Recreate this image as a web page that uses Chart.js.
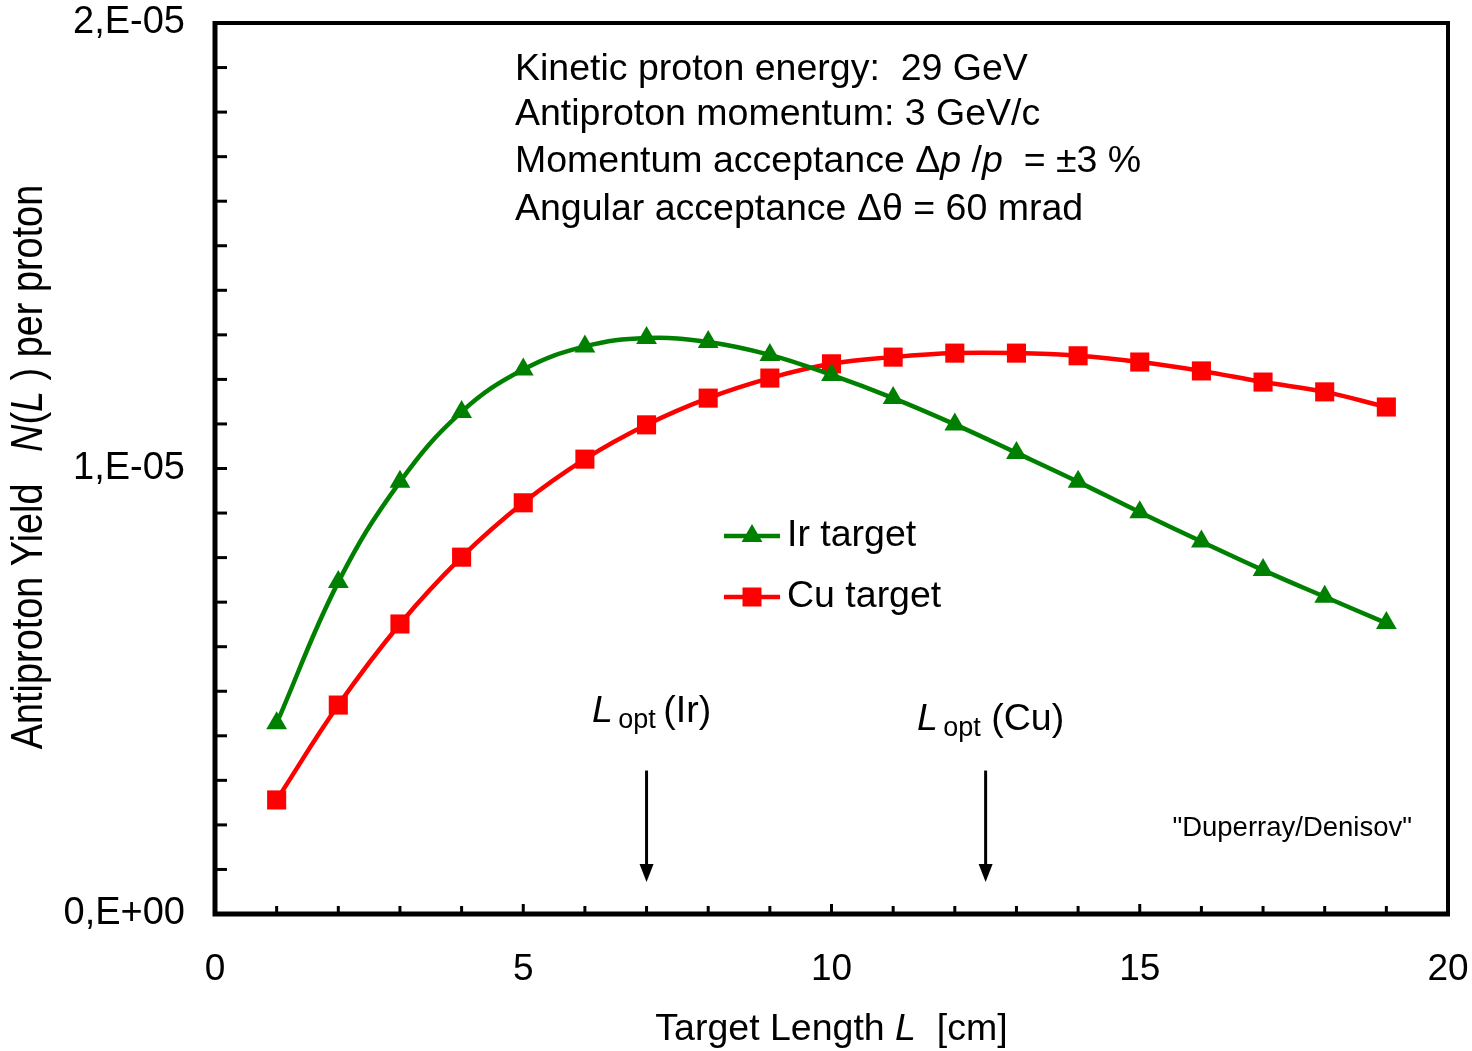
<!DOCTYPE html>
<html>
<head>
<meta charset="utf-8">
<script src="https://cdn.jsdelivr.net/npm/chart.js@4.4.1/dist/chart.umd.min.js"></script>
<style>
  html, body { margin: 0; padding: 0; background: #fff; }
  #wrap { width: 1472px; height: 1051px; position: relative; }
</style>
</head>
<body>
<div id="wrap"><canvas id="yieldChart"></canvas></div>
<script>
// target length L in cm
var lengths = [1, 2, 3, 4, 5, 6, 7, 8, 9, 10, 11, 12, 13, 14, 15, 16, 17, 18, 19];
// antiproton yield per proton, Ir target
var irYield = [4.28e-6, 7.45e-6, 9.70e-6, 11.27e-6, 12.22e-6, 12.74e-6, 12.93e-6, 12.84e-6, 12.55e-6, 12.10e-6,
               11.58e-6, 10.99e-6, 10.35e-6, 9.70e-6, 9.02e-6, 8.36e-6, 7.72e-6, 7.12e-6, 6.53e-6];
// antiproton yield per proton, Cu target
var cuYield = [2.56e-6, 4.69e-6, 6.51e-6, 8.01e-6, 9.23e-6, 10.21e-6, 10.98e-6, 11.58e-6, 12.03e-6, 12.35e-6,
               12.50e-6, 12.59e-6, 12.59e-6, 12.53e-6, 12.39e-6, 12.19e-6, 11.94e-6, 11.72e-6, 11.38e-6];
// labelled y ticks
var yTickLabels = {0: '0,E+00', 10: '1,E-05', 20: '2,E-05'};
// optimum lengths marked with arrows
var optIr = 7;
var optCu = 12.5;

var FONT = '"Liberation Sans", Arial, sans-serif';
var TXT = 37.5;

function pts(ys){
  return lengths.map(function(x, i){ return {x: x, y: ys[i]}; });
}

// draws a run of [text, italic, size, dy] pieces starting at x
function drawRich(ctx, parts, x, y){
  parts.forEach(function(p){
    ctx.font = (p[1] ? 'italic ' : '') + p[2] + 'px ' + FONT;
    ctx.fillText(p[0], x, y + (p[3] || 0));
    x += ctx.measureText(p[0]).width;
  });
  return x;
}
function richWidth(ctx, parts){
  var w = 0;
  parts.forEach(function(p){
    ctx.font = (p[1] ? 'italic ' : '') + p[2] + 'px ' + FONT;
    w += ctx.measureText(p[0]).width;
  });
  return w;
}

function marker(ctx, style, x, y, color){
  ctx.fillStyle = color;
  ctx.beginPath();
  if (style === 'triangle'){
    var r = 12;
    ctx.moveTo(x, y - r);
    ctx.lineTo(x + r * 0.866, y + r * 0.5);
    ctx.lineTo(x - r * 0.866, y + r * 0.5);
  } else {
    ctx.rect(x - 9.5, y - 9.5, 19, 19);
  }
  ctx.closePath();
  ctx.fill();
}

var extras = {
  id: 'extras',
  afterDraw: function(chart){
    var ctx = chart.ctx, a = chart.chartArea;
    var xs = chart.scales.x, ys = chart.scales.y;
    ctx.save();
    ctx.fillStyle = '#000';
    ctx.strokeStyle = '#000';

    // frame
    ctx.lineWidth = 4;
    ctx.strokeRect(a.left, a.top, a.right - a.left, a.bottom - a.top);
    ctx.lineWidth = 5;
    ctx.beginPath();
    ctx.moveTo(a.left, a.top - 2); ctx.lineTo(a.left, a.bottom);
    ctx.lineTo(a.right + 2, a.bottom);
    ctx.stroke();

    // inner tick marks
    ctx.lineWidth = 3;
    ys.ticks.forEach(function(t){
      var py = ys.getPixelForValue(t.value);
      ctx.beginPath(); ctx.moveTo(a.left, py); ctx.lineTo(a.left + 12, py); ctx.stroke();
    });
    for (var i = 1; i < 20; i++){
      var px = xs.getPixelForValue(i);
      ctx.beginPath(); ctx.moveTo(px, a.bottom); ctx.lineTo(px, a.bottom - (i % 5 ? 8 : 10)); ctx.stroke();
    }

    ctx.textBaseline = 'middle';
    ctx.textAlign = 'left';

    // y axis title
    ctx.save();
    ctx.translate(30, 467);
    ctx.rotate(-Math.PI / 2);
    ctx.scale(0.86, 1);
    var yt = [['Antiproton Yield   ', false, 44], ['N', true, 44], ['(', false, 44], ['L', true, 44], [' ) per proton', false, 44]];
    drawRich(ctx, yt, -richWidth(ctx, yt) / 2, 0);
    ctx.restore();

    // x axis title
    var xt = [['Target Length ', false, TXT], ['L', true, TXT], ['  [cm]', false, TXT]];
    drawRich(ctx, xt, xs.getPixelForValue(10) - richWidth(ctx, xt) / 2, 1030);

    // conditions
    var x0 = 515;
    drawRich(ctx, [['Kinetic proton energy:  29 GeV', false, TXT]], x0, 70);
    drawRich(ctx, [['Antiproton momentum: 3 GeV/c', false, TXT]], x0, 115);
    drawRich(ctx, [['Momentum acceptance \u0394', false, TXT], ['p', true, TXT], [' /', false, TXT], ['p', true, TXT], ['  = \u00b13 %', false, TXT]], x0, 162);
    drawRich(ctx, [['Angular acceptance \u0394\u03b8 = 60 mrad', false, TXT]], x0, 210);

    // legend
    [['Ir target', '#008000', 'triangle', 536], ['Cu target', '#ff0000', 'rect', 597]].forEach(function(l){
      ctx.strokeStyle = l[1];
      ctx.lineWidth = 4.5;
      ctx.beginPath(); ctx.moveTo(724, l[3]); ctx.lineTo(780, l[3]); ctx.stroke();
      marker(ctx, l[2], 752, l[3], l[1]);
      ctx.fillStyle = '#000';
      drawRich(ctx, [[l[0], false, TXT]], 787, l[3]);
    });

    // optimum length arrows
    ctx.strokeStyle = '#000';
    ctx.fillStyle = '#000';
    [[optIr, '\u2009(Ir)', 712], [optCu, ' (Cu)', 720]].forEach(function(o){
      var px = xs.getPixelForValue(o[0]);
      var top = ys.getPixelForValue(3.22e-6), tip = ys.getPixelForValue(0.72e-6);
      ctx.lineWidth = 3;
      ctx.beginPath(); ctx.moveTo(px, top); ctx.lineTo(px, tip - 14); ctx.stroke();
      ctx.beginPath();
      ctx.moveTo(px - 7, tip - 18); ctx.lineTo(px + 7, tip - 18); ctx.lineTo(px, tip);
      ctx.closePath(); ctx.fill();
      var lab = [['L', true, TXT], ['\u2009opt', false, 27, 9], [o[1], false, TXT]];
      drawRich(ctx, lab, px + 5 - richWidth(ctx, lab) / 2, o[2]);
    });

    // source note
    ctx.textAlign = 'right';
    ctx.font = '27.5px ' + FONT;
    ctx.fillText('"Duperray/Denisov"', 1412, 828);

    ctx.restore();
  }
};

new Chart('yieldChart', {
  type: 'line',
  data: {
    datasets: [{
      label: 'Ir target',
      data: pts(irYield),
      borderColor: '#008000',
      backgroundColor: '#008000',
      borderWidth: 4.5,
      pointStyle: 'triangle',
      pointRadius: 12,
      pointBorderWidth: 0,
      tension: 0.4,
      fill: false
    }, {
      label: 'Cu target',
      data: pts(cuYield),
      borderColor: '#ff0000',
      backgroundColor: '#ff0000',
      borderWidth: 4.5,
      pointStyle: 'rect',
      pointRadius: 13.5,
      pointBorderWidth: 0,
      tension: 0.4,
      fill: false
    }]
  },
  options: {
    responsive: true,
    maintainAspectRatio: false,
    animation: false,
    layout: {padding: {top: 23, right: 24, left: 0, bottom: 0}},
    plugins: {legend: {display: false}, tooltip: {enabled: false}},
    scales: {
      x: {
        type: 'linear', min: 0, max: 20,
        grid: {display: false, drawTicks: false},
        border: {display: false},
        ticks: {stepSize: 5, color: '#000', padding: 34, font: {family: FONT, size: 37}},
        afterFit: function(s){ s.height = 137; s.paddingLeft = 0; s.paddingRight = 0; }
      },
      y: {
        min: 0, max: 2e-5,
        grid: {display: false, drawTicks: false},
        border: {display: false},
        ticks: {
          stepSize: 1e-6, autoSkip: false, color: '#000', padding: 30,
          font: {family: FONT, size: 38},
          callback: function(v){
            var k = Math.round(v / 1e-6);
            return yTickLabels[k] !== undefined ? yTickLabels[k] : '';
          }
        },
        afterFit: function(s){ s.width = 215; s.paddingTop = 0; s.paddingBottom = 0; }
      }
    }
  },
  plugins: [extras]
});
</script>
</body>
</html>
